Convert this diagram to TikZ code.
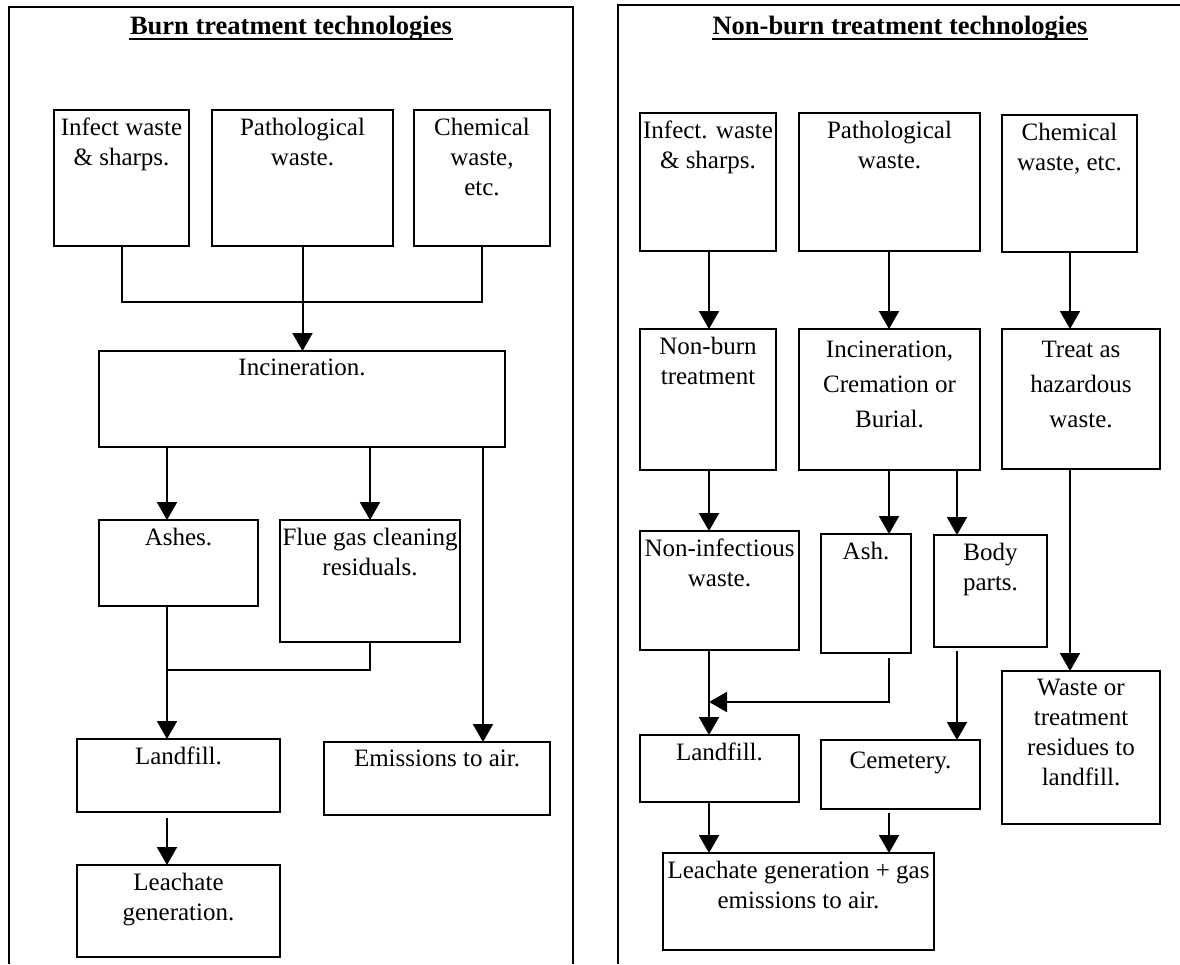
\documentclass[tikz,border=0pt]{standalone}
\usepackage{fontspec}
\setmainfont{Liberation Serif}
\usetikzlibrary{arrows.meta}

\begin{document}
\begin{tikzpicture}[
    x=1pt,
    y=-1pt,
    line width=2pt,
    box/.style={
        rectangle,
        draw,
        anchor=north west,
        inner sep=0pt,
        outer sep=0pt
    },
    txt/.style={
        below,
        align=center,
        inner sep=0pt,
        yshift=-7pt,
        font=\fontsize{25pt}{30pt}\selectfont
    },
    head/.style={
        anchor=base,
        inner sep=0pt,
        font=\fontsize{26.5pt}{32pt}\selectfont\bfseries
    },
    arr/.style={-{Triangle[length=18pt,width=20pt]}}
]
\useasboundingbox (0,0) rectangle (1180,964);

% The two panels
\draw (9,964) -- (9,7) -- (573,7) -- (573,964);
\draw (618,964) -- (618,5) -- (1180,5);

% Headings
\node[head] (tL) at (291,34) {Burn treatment technologies};
\node[head] (tR) at (900,34) {Non-burn treatment technologies};
\draw[line width=1.6pt] ([yshift=-5pt]tL.base west) -- ([yshift=-5pt]tL.base east);
\draw[line width=1.6pt] ([yshift=-5pt]tR.base west) -- ([yshift=-5pt]tR.base east);

% Burn: waste streams
\node[box, minimum width=135pt, minimum height=136pt,
      label={[txt]north:{Infect waste\\\& sharps.}}] (infL) at (54,110) {};
\node[box, minimum width=181pt, minimum height=136pt,
      label={[txt]north:{Pathological\\waste.}}] (patL) at (212,110) {};
\node[box, minimum width=136pt, minimum height=136pt,
      label={[txt]north:{Chemical\\waste,\\etc.}}] (chmL) at (414,110) {};

% Burn: treatment and residues
\node[box, minimum width=406pt, minimum height=96pt,
      label={[txt]north:{Incineration.}}] (incL) at (99,351) {};
\node[box, minimum width=159pt, minimum height=86pt,
      label={[txt]north:{Ashes.}}] (ashL) at (99,520) {};
\node[box, minimum width=180pt, minimum height=122pt,
      label={[txt]north:{Flue gas cleaning\\residuals.}}] (flueL) at (280,520) {};
\node[box, minimum width=203pt, minimum height=73pt,
      label={[txt]north:{Landfill.}}] (lanL) at (77,739) {};
\node[box, minimum width=226pt, minimum height=73pt,
      label={[txt]north:{Emissions to air.}}] (emiL) at (324,742) {};
\node[box, minimum width=203pt, minimum height=92pt,
      label={[txt]north:{Leachate\\generation.}}] (leaL) at (77,865) {};

% Non-burn: waste streams
\node[box, minimum width=136pt, minimum height=138pt,
      label={[txt]north:{Infect. waste\\\& sharps.}}] (infR) at (640,113) {};
\node[box, minimum width=181pt, minimum height=138pt,
      label={[txt]north:{Pathological\\waste.}}] (patR) at (799,113) {};
\node[box, minimum width=135pt, minimum height=137pt,
      label={[txt]north:{Chemical\\waste, etc.}}] (chmR) at (1002,115) {};

% Non-burn: treatment
\node[box, minimum width=136pt, minimum height=141pt,
      label={[txt]north:{Non-burn\\treatment}}] (nbR) at (640,329) {};
\node[box, minimum width=181pt, minimum height=141pt,
      label={[txt, font=\fontsize{25pt}{35pt}\selectfont, yshift=-4pt]north:{Incineration,\\Cremation or\\Burial.}}] (icbR) at (799,329) {};
\node[box, minimum width=158pt, minimum height=140pt,
      label={[txt, font=\fontsize{25pt}{35pt}\selectfont, yshift=-4pt]north:{Treat as\\hazardous\\waste.}}] (trtR) at (1002,329) {};

% Non-burn: products and disposal
\node[box, minimum width=159pt, minimum height=119pt,
      label={[txt]north:{Non-infectious\\waste.}}] (ninR) at (640,531) {};
\node[box, minimum width=90pt, minimum height=119pt,
      label={[txt]north:{Ash.}}] (ashR) at (821,534) {};
\node[box, minimum width=113pt, minimum height=112pt,
      label={[txt]north:{Body\\parts.}}] (bodR) at (934,535) {};
\node[box, minimum width=159pt, minimum height=67pt,
      label={[txt]north:{Landfill.}}] (lanR) at (640,735) {};
\node[box, minimum width=159pt, minimum height=69pt,
      label={[txt, yshift=-4pt]north:{Cemetery.}}] (cemR) at (821,740) {};
\node[box, minimum width=158pt, minimum height=153pt,
      label={[txt]north:{Waste or\\treatment\\residues to\\landfill.}}] (wasR) at (1002,671) {};
\node[box, minimum width=271pt, minimum height=97pt,
      label={[txt]north:{Leachate generation + gas\\emissions to air.}}] (leaR) at (663,853) {};

% Columns of the connectors
\coordinate (xA) at (167,0);
\coordinate (xF) at (370,0);
\coordinate (xE) at (483,0);
\coordinate (jL) at (302,302);
\coordinate (kL) at (370,670);
\coordinate (xN) at (709,0);
\coordinate (xI) at (889,0);
\coordinate (xB) at (957,0);
\coordinate (xT) at (1070,0);
\coordinate (kR) at (709,702);
\coordinate (gL) at (0,818);
\coordinate (gB) at (0,651);
\coordinate (gC) at (0,813);
\coordinate (gA) at (0,658);

% Burn connectors
\draw (infL.south) |- (jL) -| (chmL.south);
\draw[arr] (patL.south) -- (patL.south |- incL.north);
\draw[arr] (incL.south -| xA) -- (ashL.north -| xA);
\draw[arr] (incL.south -| xF) -- (flueL.north -| xF);
\draw[arr] (incL.south -| xE) -- (emiL.north -| xE);
\draw[arr] (ashL.south -| xA) -- (lanL.north -| xA);
\draw (flueL.south -| xF) -- (kL) -- (kL -| xA);
\draw[arr] (gL -| xA) -- (leaL.north -| xA);

% Non-burn connectors
\draw[arr] (infR.south -| xN) -- (nbR.north -| xN);
\draw[arr] (patR.south -| xI) -- (icbR.north -| xI);
\draw[arr] (chmR.south -| xT) -- (trtR.north -| xT);
\draw[arr] (nbR.south -| xN) -- (ninR.north -| xN);
\draw[arr] (icbR.south -| xI) -- (ashR.north -| xI);
\draw[arr] (icbR.south -| xB) -- (bodR.north -| xB);
\draw[arr] (trtR.south -| xT) -- (wasR.north -| xT);
\draw[arr] (gA -| xI) |- (kR);
\draw[arr] (ninR.south -| xN) -- (lanR.north -| xN);
\draw[arr] (gB -| xB) -- (cemR.north -| xB);
\draw[arr] (lanR.south -| xN) -- (leaR.north -| xN);
\draw[arr] (gC -| xI) -- (leaR.north -| xI);
\end{tikzpicture}
\end{document}
